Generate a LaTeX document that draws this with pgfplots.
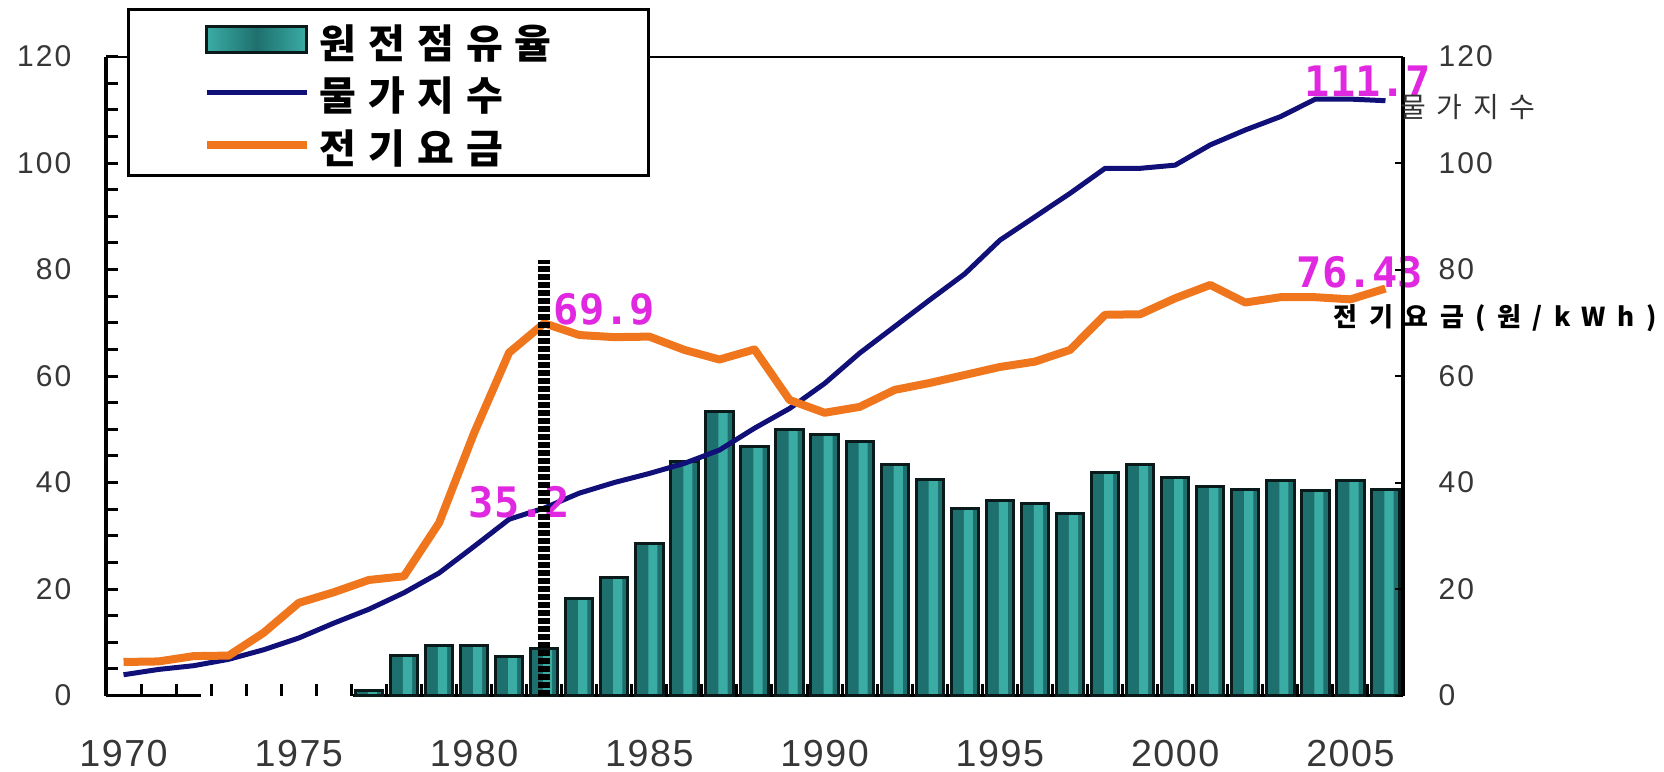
\documentclass[border=0pt]{standalone}
\usepackage{fontspec}
\usepackage{pgfplots}
\usepackage{pgfplotstable}
\pgfplotsset{compat=1.18}
\setmainfont{Liberation Sans}
\newfontfamily\kr{Noto Sans CJK KR}
\newfontfamily\magfont{DejaVu Sans Mono}
\newcommand{\ls}[1]{\addfontfeatures{LetterSpace=#1}}

\definecolor{navyline}{RGB}{16,16,120}
\definecolor{orangeline}{RGB}{240,118,30}
\definecolor{tealdark}{RGB}{30,112,110}
\definecolor{teallight}{RGB}{58,172,164}
\definecolor{barline}{RGB}{10,26,26}
\definecolor{magentalab}{RGB}{225,40,225}
\definecolor{ticklab}{RGB}{55,55,55}

\pgfplotsset{
  linelegend/.style={legend image code/.code={\draw[##1] (0pt,0pt) -- (30pt,0pt);}},
  barlegend/.style={legend image code/.code={
    \draw[line width=0.9pt, draw=barline, left color=teallight,
      right color=teallight, middle color=tealdark]
      (0pt,-3.9pt) rectangle (30pt,3.9pt);}},
  frame/.style={at={(31.8pt,22.65pt)}, anchor=south west,
    scale only axis, width=389.1pt, height=191.7pt,
    xmin=1969.5, xmax=2006.5, ymin=0, ymax=120, clip=false},
}
\tikzset{
  maglabel/.style={anchor=base west, inner sep=0pt, text=magentalab,
    font=\magfont\bfseries\fontsize{12.6}{12.6}\selectfont},
}

% nuclear share of power generation (%)
\pgfplotstableread{
year share
1977 1.0
1978 7.5
1979 9.4
1980 9.4
1981 7.3
1982 8.8
1983 18.2
1984 22.2
1985 28.6
1986 43.9
1987 53.3
1988 46.7
1989 50.0
1990 49.1
1991 47.7
1992 43.3
1993 40.5
1994 35.2
1995 36.6
1996 36.0
1997 34.2
1998 41.8
1999 43.3
2000 40.9
2001 39.3
2002 38.6
2003 40.3
2004 38.5
2005 40.3
2006 38.6
}\sharetable

% price index and electricity rate (won/kWh)
\pgfplotstableread{
year price rate
1970 3.9 6.3
1971 4.9 6.4
1972 5.6 7.4
1973 6.8 7.5
1974 8.6 11.8
1975 10.8 17.4
1976 13.6 19.4
1977 16.2 21.7
1978 19.3 22.4
1979 23.0 32.4
1980 28.0 49.3
1981 33.1 64.4
1982 35.2 69.9
1983 38.0 67.7
1984 40.0 67.3
1985 41.7 67.4
1986 43.6 64.9
1987 46.1 63.1
1988 50.2 65.0
1989 53.9 55.5
1990 58.6 53.1
1991 64.3 54.2
1992 69.3 57.4
1993 74.3 58.7
1994 79.2 60.2
1995 85.5 61.7
1996 89.9 62.7
1997 94.3 64.9
1998 99.0 71.5
1999 99.0 71.6
2000 99.6 74.6
2001 103.4 77.1
2002 106.2 73.8
2003 108.7 74.8
2004 112.0 74.8
2005 112.0 74.4
2006 111.7 76.43
}\linetable

\begin{document}
\begin{tikzpicture}
\useasboundingbox (0pt,0pt) rectangle (499.2pt,231.3pt);

\begin{axis}[
  frame,
  axis x line*=bottom, axis y line*=left,
  x axis line style={draw=none},
  y axis line style={line width=1.1pt, black},
  tick align=inside,
  tick style={black, line width=0.9pt},
  major tick length=3.6pt, minor tick length=3.6pt,
  xtick={1970.5,1971.5,...,2005.5}, xticklabels={},
  extra x ticks={1970,1975,...,2005},
  extra x tick labels={1970,1975,1980,1985,1990,1995,2000,2005},
  extra x tick style={major tick length=0pt},
  xticklabel style={font=\fontsize{11.3}{11.3}\selectfont\ls{4}, text=ticklab,
    anchor=north, inner sep=0pt, yshift=-13.35pt},
  ytick={0,20,...,120}, minor ytick={5,10,...,115},
  yticklabel style={font=\fontsize{9}{9}\selectfont\ls{7}, text=ticklab,
    anchor=east, inner sep=0pt, xshift=-10.2pt},
  /pgf/number format/assume math mode=true,
  legend cell align=left,
  legend style={
    at={(rel axis cs:0.0162,1.0759)}, anchor=north west,
    draw=black, line width=0.8pt, fill=white,
    inner xsep=22.3pt, inner ysep=2.2pt, row sep=1.85pt,
    nodes={inner sep=0pt},
    /tikz/every odd column/.append style={column sep=2.7pt},
    font=\kr\bfseries\fontsize{12}{12}\selectfont,
  },
]

% axis frame pieces
\draw[line width=1.1pt] (axis cs:1969.5,0) -- (axis cs:1972.2,0);
\draw[line width=1.1pt] (axis cs:1976.55,0) -- (axis cs:2006.5,0);
\draw[line width=0.6pt] (axis cs:1969.5,120) -- (axis cs:2006.5,120);

% bars: base fill, light stripe, outline
\addplot[ybar, bar width=0.78, bar shift=0pt, fill=tealdark, draw=none, barlegend]
  table[x=year, y=share] {\sharetable};
\addlegendentry{\raisebox{0pt}[12.4pt][3.35pt]{\makebox[76.3pt][l]{\ls{30}원전점유율}}}
\addplot[ybar, bar width=0.26, bar shift=0.1, fill=teallight, draw=none, forget plot]
  table[x=year, y=share] {\sharetable};
\addplot[ybar, bar width=0.78, bar shift=0pt, fill=none, draw=barline,
  line width=0.9pt, forget plot]
  table[x=year, y=share] {\sharetable};

% price index
\addplot[navyline, line width=1.5pt, line join=round, mark=none, linelegend]
  table[x=year, y=price] {\linetable};
\addlegendentry{\raisebox{0pt}[12.4pt][3.35pt]{\makebox[76.3pt][l]{\ls{30}물가지수}}}

% electricity rate
\addplot[orangeline, line width=2.4pt, line join=round, mark=none, linelegend]
  table[x=year, y=rate] {\linetable};
\addlegendentry{\raisebox{0pt}[12.4pt][3.35pt]{\makebox[76.3pt][l]{\ls{30}전기요금}}}

% value labels
\node[maglabel] at (axis cs:2003.68,112.4) {111.7};
\node[maglabel] at (axis cs:2003.45,76.7) {76.43};
\node[maglabel] at (axis cs:1982.26,69.6) {69.9};
\node[maglabel] at (axis cs:1979.83,33.5) {35.2};

% 1982 marker
\addplot[black, line width=3.6pt, dash pattern=on 1.8pt off 0.6pt, forget plot]
  coordinates {(1982,0) (1982,81.8)};
\end{axis}

\begin{axis}[
  frame,
  axis y line*=right, axis x line=none,
  y axis line style={line width=1pt, black},
  tick align=inside,
  tick style={black, line width=0.6pt},
  major tick length=2.4pt,
  ytick={0,20,...,120},
  yticklabel style={font=\fontsize{9}{9}\selectfont\ls{7}, text=ticklab,
    anchor=west, inner sep=0pt, xshift=10.5pt},
  /pgf/number format/assume math mode=true,
]
\node[anchor=west, inner sep=0pt, text=black!80,
  font=\kr\fontsize{8.4}{8.4}\selectfont\ls{38}] at (axis cs:2006.41,110.6) {물가지수};
\node[anchor=west, inner sep=0pt, text=black,
  font=\kr\bfseries\fontsize{7.8}{7.8}\selectfont\ls{44}] at (axis cs:2004.51,70.9) {전기요금(원/kWh)};
\end{axis}
\end{tikzpicture}
\end{document}
